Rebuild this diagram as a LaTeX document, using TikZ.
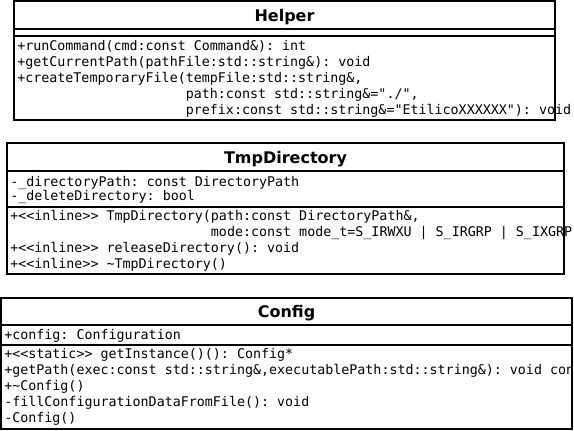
\documentclass[tikz,border=0pt]{standalone}
\usepackage{fontspec}
\setsansfont{DejaVu Sans}
\setmonofont{DejaVu Sans Mono}

\tikzset{
	classbox/.style={draw, line width=1.5pt},
	classname/.style={font=\sffamily\bfseries\fontsize{12}{14}\selectfont, inner sep=0pt, anchor=base},
	member/.style={font=\ttfamily\fontsize{10}{12}\selectfont, inner sep=0pt, anchor=base west}
}

\begin{document}
\begin{tikzpicture}[x=0.75pt, y=-0.75pt]
	\useasboundingbox (0,0) rectangle (574,430);
	\clip (0,0) rectangle (574,430);

	% Helper
	\draw[classbox] (14,1) rectangle (555,120);
	\draw[classbox] (14,29) -- (555,29) (14,36) -- (555,36);
	\node[classname] (helper) at (284.5,21) {Helper};
	\node[member] (runcmd) at (17,50.5) {+runCommand(cmd:const Command\&): int};
	\node[member] (getpath) at (17,66.5) {+getCurrentPath(pathFile:std::string\&): void};
	\node[member] (tmpfile) at (17,82.5) {+createTemporaryFile(tempFile:std::string\&,};
	\node[member] (tmppath) at (17,98.5) {\hphantom{+createTemporaryFile(}path:const std::string\&="./",};
	\node[member] (tmpprefix) at (17,114.5) {\hphantom{+createTemporaryFile(}prefix:const std::string\&="EtilicoXXXXXX"): void};

	% TmpDirectory
	\draw[classbox] (7,143) rectangle (564,274);
	\draw[classbox] (7,171) -- (564,171) (7,207) -- (564,207);
	\node[classname] (tmpdir) at (285.5,163) {TmpDirectory};
	\node[member] (dirpath) at (10,186) {-\_directoryPath: const DirectoryPath};
	\node[member] (deldir) at (10,200.5) {-\_deleteDirectory: bool};
	\node[member] (ctor) at (10,220) {+<<inline>> TmpDirectory(path:const DirectoryPath\&,};
	\node[member] (ctormode) at (10,236) {\hphantom{+<<inline>> TmpDirectory(}mode:const mode\_t=S\_IRWXU | S\_IRGRP | S\_IXGRP)};
	\node[member] (release) at (10,252) {+<<inline>> releaseDirectory(): void};
	\node[member] (dtor) at (10,268) {+<<inline>> \textasciitilde TmpDirectory()};

	% Config
	\draw[classbox] (1,298) rectangle (572,428.5);
	\draw[classbox] (1,325) -- (572,325) (1,344.5) -- (572,344.5);
	\node[classname] (config) at (286.5,317) {Config};
	\node[member] (cfgattr) at (4,339) {+config: Configuration};
	\node[member] (instance) at (4,358.5) {+<<static>> getInstance()(): Config*};
	\node[member] (cfgpath) at (4,374.5) {+getPath(exec:const std::string\&,executablePath:std::string\&): void const};
	\node[member] (cfgdtor) at (4,390.5) {+\textasciitilde Config()};
	\node[member] (filldata) at (4,406.5) {-fillConfigurationDataFromFile(): void};
	\node[member] (cfgctor) at (4,422.5) {-Config()};
\end{tikzpicture}
\end{document}
